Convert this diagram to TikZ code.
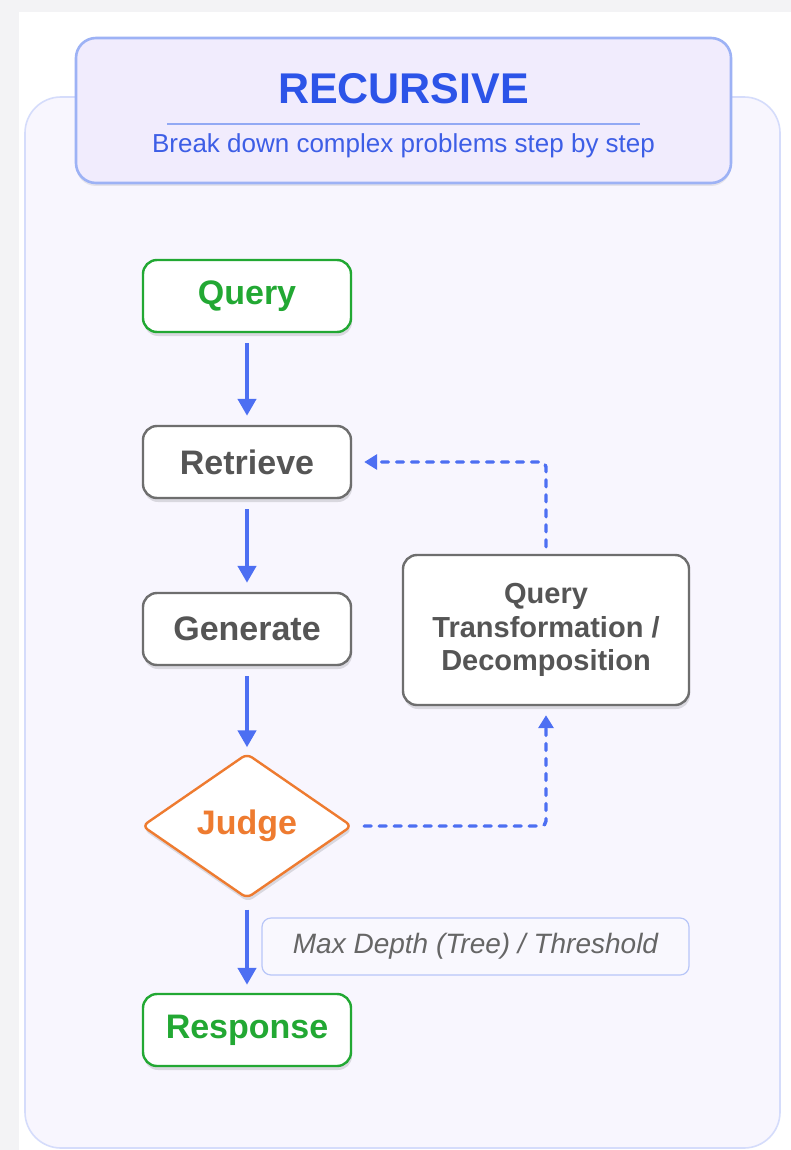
\documentclass[tikz,border=0pt]{standalone}
\usepackage{fontspec}
\setmainfont{Liberation Sans}
\usetikzlibrary{shapes.geometric,arrows.meta,shadows}

\definecolor{pagebg}{HTML}{F3F3F5}
\definecolor{panelfill}{HTML}{F8F6FE}
\definecolor{panelline}{HTML}{D5DCFB}
\definecolor{headfill}{HTML}{F1ECFD}
\definecolor{headline}{HTML}{9DB2F5}
\definecolor{titleblue}{HTML}{2C54E8}
\definecolor{subblue}{HTML}{3D5EE6}
\definecolor{arrowblue}{HTML}{4D6FF2}
\definecolor{okgreen}{HTML}{22A833}
\definecolor{boxgray}{HTML}{6E6E6E}
\definecolor{textgray}{HTML}{555555}
\definecolor{judgeorange}{HTML}{EE7B30}
\definecolor{notefill}{HTML}{F9F8FE}
\definecolor{noteline}{HTML}{B8C6F8}

\tikzset{
  softshadow/.style={drop shadow={shadow xshift=1pt,shadow yshift=-4pt,opacity=0.12,fill=black}},
  stepbox/.style={draw=boxgray,line width=2.4pt,fill=white,rounded corners=14pt,
    minimum width=208pt,minimum height=72pt,inner sep=0pt,
    text=textgray,font=\fontsize{34}{40}\selectfont\bfseries,softshadow},
  endbox/.style={stepbox,draw=okgreen,text=okgreen},
  judgebox/.style={diamond,draw=judgeorange,line width=2.4pt,fill=white,
    minimum width=210pt,minimum height=145pt,inner sep=0pt,rounded corners=6pt,
    text=judgeorange,font=\fontsize{34}{40}\selectfont\bfseries,softshadow},
  flow/.style={draw=arrowblue,line width=4.6pt,-{Triangle[length=17pt,width=18pt]}},
  loopback/.style={draw=arrowblue,line width=3.4pt,line cap=round,
    dash pattern=on 7pt off 8pt,rounded corners=5pt,
    -{Triangle[length=13pt,width=15pt]}},
}

\begin{document}
\begin{tikzpicture}[x=1pt,y=-1pt]
  % page and frame
  \fill[pagebg] (0,0) rectangle (791,1150);
  \useasboundingbox (0,0) rectangle (791,1150);
  \fill[white] (19,12) rectangle (791,1150);
  \draw[panelline,fill=panelfill,line width=1.6pt,rounded corners=36pt]
    (25,97) rectangle (780,1148);

  % header card
  \node[draw=headline,fill=headfill,line width=2.6pt,rounded corners=20pt,
        minimum width=655pt,minimum height=145pt,inner sep=0pt,
        drop shadow={shadow xshift=0pt,shadow yshift=-3pt,opacity=0.08,fill=black}]
        (head) at (403.5,110.5) {};
  \node[text=titleblue,font=\fontsize{43}{48}\selectfont\bfseries] (title) at (403.5,89) {RECURSIVE};
  \draw[headline!90!titleblue,line width=1.2pt] (167,124) -- (640,124);
  \node[text=subblue,font=\fontsize{26}{30}\selectfont] (subtitle) at (403.5,146) {Break down complex problems step by step};

  % main column
  \node[endbox] (query) at (247,296) {Query};
  \node[stepbox] (retrieve) at (247,462) {Retrieve};
  \node[stepbox] (generate) at (247,629) {Generate};
  \node[judgebox] (judge) at (247,826) {Judge};
  \node[endbox] (response) at (247,1030) {Response};

  % side step
  \node[stepbox,minimum width=286pt,minimum height=150pt,align=center,
        font=\fontsize{29}{33.5}\selectfont\bfseries] (transform) at (546,630)
        {Query\\Transformation /\\Decomposition};

  % stopping-condition note
  \node[draw=noteline,fill=notefill,line width=1.2pt,rounded corners=9pt,
        minimum width=427pt,minimum height=57pt,inner sep=0pt,
        text=textgray!90!white,font=\fontsize{28}{32}\selectfont\itshape] (note) at (475.5,946.5)
        {Max Depth (Tree) / Threshold};

  % forward flow
  \draw[flow] ([yshift=-10pt]query.south) -- ([yshift=9pt]retrieve.north);
  \draw[flow] ([yshift=-10pt]retrieve.south) -- ([yshift=9pt]generate.north);
  \draw[flow] ([yshift=-10pt]generate.south) -- ([yshift=5pt]judge.north);
  \draw[flow] ([yshift=-10pt]judge.south) -- ([yshift=8pt]response.north);

  % recursion loop
  \coordinate (loopA) at (546,826);
  \coordinate (loopB) at (546,462);
  \draw[loopback] ([xshift=11pt]judge.east) -- (loopA) -- ([yshift=-9pt]transform.south);
  \draw[loopback] ([yshift=7pt]transform.north) -- (loopB) -- ([xshift=12pt]retrieve.east);
\end{tikzpicture}
\end{document}
